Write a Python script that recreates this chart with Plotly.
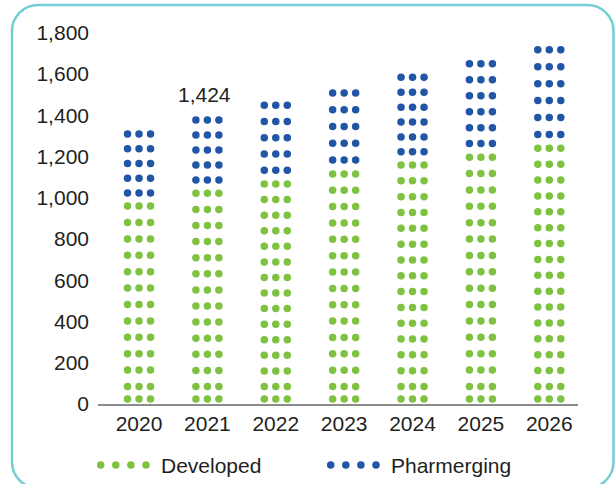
import plotly.graph_objects as go

# Global medicine spending, US$Bn
years = ["2020", "2021", "2022", "2023", "2024", "2025", "2026"]
developed = [998, 1060, 1105, 1154, 1197, 1235, 1278]
pharmerging = [357, 364, 394, 406, 433, 464, 492]
y_ticks = [0, 200, 400, 600, 800, 1000, 1200, 1400, 1600, 1800]
labelled_year = "2021"

GREEN = "#7fc241"
BLUE = "#2155a5"
TEXT = "#231f20"
FONT = "Liberation Sans, Arial, sans-serif"

W, H = 616, 484
L, R, T, B = 98, 38, 32, 80
PW, PH = W - L - R, H - T - B
Y_MAX = 1803
X_RANGE = [-0.6, 6.42]
UNITS_PER_PX = Y_MAX / PH

DOT = 7.5                     # dot diameter, px
COL_OFFSET = 11.5 / (PW / (X_RANGE[1] - X_RANGE[0]))  # column spacing in category units
ROW_UNIT = 78                 # nominal value per row of dots


def px(v):
    return v * UNITS_PER_PX


def developed_rows(top):
    # tile stretched from the segment top down to the last full row,
    # then a clipped row sitting on the baseline
    c_top = top - px(8)
    c_bot = px(17.5)
    gaps = max(1, round((c_top - c_bot) / ROW_UNIT))
    step = (c_top - c_bot) / gaps
    rows = [c_top - i * step for i in range(gaps + 1)]
    rows.append(px(5))
    return rows


def pharmerging_rows(base, value):
    n = max(1, round(value / ROW_UNIT))
    step = value / n
    return [base + (i + 0.35) * step for i in range(n)]


def dots(rows_per_bar):
    xs, ys = [], []
    for i, rows in enumerate(rows_per_bar):
        for r in rows:
            for k in (-1, 0, 1):
                xs.append(i + k * COL_OFFSET)
                ys.append(r)
    return xs, ys


gx, gy = dots([developed_rows(d) for d in developed])
bx, by = dots([pharmerging_rows(d, p) for d, p in zip(developed, pharmerging)])

fig = go.Figure()
fig.add_trace(go.Scatter(x=gx, y=gy, mode="markers", name="Developed",
                         marker=dict(size=DOT, color=GREEN, line=dict(width=0)),
                         hoverinfo="skip", showlegend=False))
fig.add_trace(go.Scatter(x=bx, y=by, mode="markers", name="Pharmerging",
                         marker=dict(size=DOT, color=BLUE, line=dict(width=0)),
                         hoverinfo="skip", showlegend=False))


def to_paper(x, y):
    return (x - L) / PW, (H - B - y) / PH


shapes = []

# rounded frame around the whole chart (bottom edge runs just past the page)
fx0, fy0, fx1, fy1, rad = 12, 5, 613.5, 488, 26
k = 0.5523 * rad
pts = [
    ("M", [(fx0 + rad, fy0)]),
    ("L", [(fx1 - rad, fy0)]),
    ("C", [(fx1 - rad + k, fy0), (fx1, fy0 + rad - k), (fx1, fy0 + rad)]),
    ("L", [(fx1, fy1 - rad)]),
    ("C", [(fx1, fy1 - rad + k), (fx1 - rad + k, fy1), (fx1 - rad, fy1)]),
    ("L", [(fx0 + rad, fy1)]),
    ("C", [(fx0 + rad - k, fy1), (fx0, fy1 - rad + k), (fx0, fy1 - rad)]),
    ("L", [(fx0, fy0 + rad)]),
    ("C", [(fx0, fy0 + rad - k), (fx0 + rad - k, fy0), (fx0 + rad, fy0)]),
]
path = ""
for cmd, pp in pts:
    path += cmd + " ".join(f"{to_paper(a, b)[0]:.5f},{to_paper(a, b)[1]:.5f}" for a, b in pp) + " "
path += "Z"
shapes.append(dict(type="path", xref="paper", yref="paper", path=path,
                   line=dict(color="#74cdd4", width=2.5), fillcolor="rgba(0,0,0,0)",
                   layer="below"))

# legend: four dots followed by the series name
annotations = []
legend_items = [("Developed", GREEN, 100.7), ("Pharmerging", BLUE, 330.7)]
legend_y = 465
for name, color, x_start in legend_items:
    for j in range(4):
        cx, cy = to_paper(x_start + j * 15.1, legend_y)
        shapes.append(dict(type="circle", xref="paper", yref="paper",
                           xsizemode="pixel", ysizemode="pixel",
                           xanchor=cx, yanchor=cy,
                           x0=-DOT / 2, x1=DOT / 2, y0=-DOT / 2, y1=DOT / 2,
                           fillcolor=color, line=dict(width=0)))
    tx, ty = to_paper(x_start + 3 * 15.1 + 12.5, legend_y)
    annotations.append(dict(x=tx, y=ty, xref="paper", yref="paper",
                            xanchor="left", yanchor="middle", showarrow=False,
                            text=name, font=dict(size=21, color=TEXT, family=FONT)))

# total label above the highlighted year
li = years.index(labelled_year)
total = developed[li] + pharmerging[li]
annotations.append(dict(x=li, y=total, xref="x", yref="y", text=f"{total:,}",
                        showarrow=False, yanchor="bottom", yshift=2, xshift=-3,
                        font=dict(size=21, color=TEXT, family=FONT)))

fig.update_layout(
    width=W, height=H,
    margin=dict(l=L, r=R, t=T, b=B, pad=0),
    paper_bgcolor="white", plot_bgcolor="white",
    font=dict(family=FONT, size=21, color=TEXT),
    shapes=shapes, annotations=annotations,
    xaxis=dict(range=X_RANGE, tickmode="array", tickvals=list(range(len(years))),
               ticktext=years, showgrid=False, zeroline=False,
               showline=True, linecolor="#8c8c8c", linewidth=1.5,
               ticks="", ticklabelstandoff=0, fixedrange=True),
    yaxis=dict(range=[0, Y_MAX], tickmode="array", tickvals=y_ticks,
               ticktext=[f"{v:,}" for v in y_ticks], showgrid=False,
               zeroline=False, showline=False, ticks="",
               ticklabelstandoff=8, fixedrange=True),
)

fig.write_html("out.html")
